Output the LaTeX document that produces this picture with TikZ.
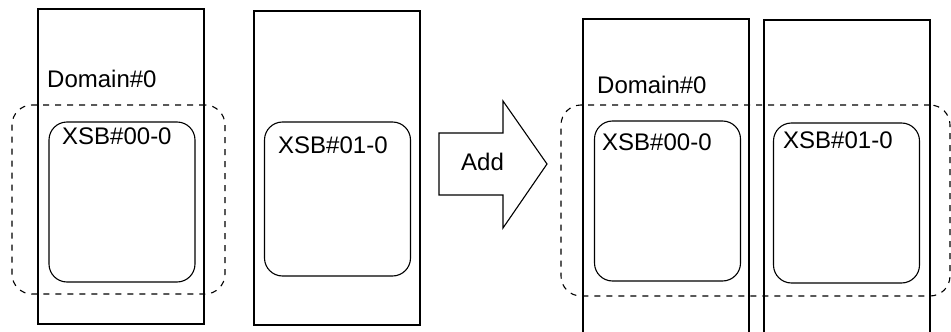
\documentclass[tikz,border=0pt]{standalone}
\usepackage{fontspec}
\setmainfont{Liberation Sans}
\usetikzlibrary{positioning}

\begin{document}
\begin{tikzpicture}[x=1pt, y=-1pt, font=\fontsize{24}{28}\selectfont,
	board/.style={draw, line width=1.1pt, minimum width=166pt, inner sep=0pt},
	xsb/.style={draw, line width=1.1pt, rounded corners=18pt, minimum width=146pt, minimum height=160pt, inner sep=0pt},
	dombox/.style={draw, line width=1.1pt, dash pattern=on 6pt off 6pt, rounded corners=20pt, inner sep=0pt},
	lbl/.style={anchor=base west, inner sep=0pt}]
	\useasboundingbox (0,0) rectangle (951,332);
	
	%boards before
	\node (brdA)[board, minimum height=315pt] at (121,166.5) {};
	\node (brdB)[board, minimum height=314pt] at (337,168)   {};
	
	%boards after
	\node (brdC)[board, minimum height=340pt] at (666,189)   {};
	\node (brdD)[board, minimum height=340pt] at (847,190)   {};
	
	%domains
	\node (domA)[dombox, minimum width=213pt, minimum height=189pt] at (118.5,199.5) {};
	\node (domB)[dombox, minimum width=389pt, minimum height=191pt] at (755.5,200.5) {};
	
	%xsbs
	\node (xsbA)[xsb]                       at (122,202)   {};
	\node (xsbB)[xsb, minimum height=154pt] at (337.5,199) {};
	\node (xsbC)[xsb]                       at (667.5,201) {};
	\node (xsbD)[xsb]                       at (846.5,203) {};
	
	%labels
	\node (domAlbl)[lbl] at (47,87)   {Domain\#0};
	\node (xsbAlbl)[lbl] at (62,144)  {XSB\#00-0};
	\node (xsbBlbl)[lbl] at (278,153) {XSB\#01-0};
	\node (domBlbl)[lbl] at (597,93)  {Domain\#0};
	\node (xsbClbl)[lbl] at (602,150) {XSB\#00-0};
	\node (xsbDlbl)[lbl] at (783,148) {XSB\#01-0};
	
	%arrow
	\draw[line width=1.1pt] (439,133) -- (503,133) -- (503,101) -- (547,164)
		-- (503,228) -- (503,195) -- (439,195) -- cycle;
	\node (add)[lbl] at (461,170) {Add};
\end{tikzpicture}
\end{document}
